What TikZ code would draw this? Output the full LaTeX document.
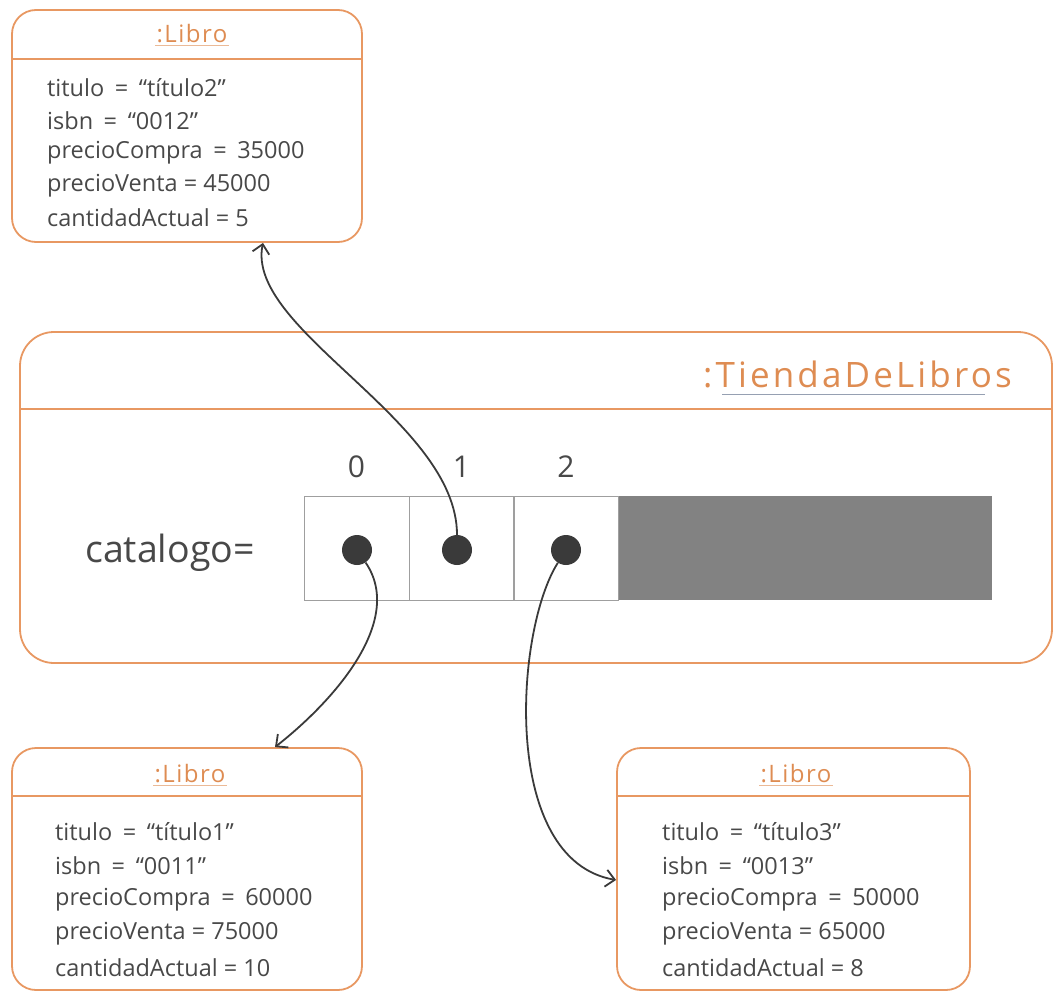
\documentclass[tikz,border=0pt]{standalone}
\usepackage{fontspec}
\setmainfont{Open Sans}
\newfontfamily\titlefont[LetterSpace=6]{Open Sans}
\newfontfamily\bigtitlefont[LetterSpace=9]{Open Sans}
\usetikzlibrary{arrows.meta,positioning}
\definecolor{boxorange}{RGB}{232,152,98}
\definecolor{titleorange}{RGB}{222,140,82}
\definecolor{textgray}{RGB}{72,72,72}
\definecolor{fillgray}{RGB}{130,130,130}
\definecolor{dotgray}{RGB}{58,58,58}
\definecolor{ulgray}{RGB}{150,160,178}

\newcommand{\eqsp}{\hspace{0.45em}=\hspace{0.45em}}

\tikzset{
  objbox/.style={draw=boxorange, line width=1.8pt, rounded corners=24pt, inner sep=0pt},
  objtitle/.style={text=titleorange, inner sep=1pt, font=\titlefont\fontsize{24}{27}\selectfont},
  attr/.style={text=textgray, anchor=west, inner sep=0pt, font=\fontsize{23.5}{27}\selectfont},
  cell/.style={draw=gray!75, line width=0.8pt, minimum width=105pt, minimum height=104pt, inner sep=0pt},
  ref/.style={circle, fill=dotgray, minimum size=30pt, inner sep=0pt},
  link/.style={draw=dotgray, line width=1.8pt, -{Straight Barb[length=9pt,width=17pt]}},
}

\begin{document}
\begin{tikzpicture}[x=1pt, y=-1pt]
  \useasboundingbox (0,0) rectangle (1055,1003);

  % Tienda
  \node[objbox, rounded corners=34pt, minimum width=1032pt, minimum height=331pt] (tienda) at (536,497.5) {};
  \draw[boxorange, line width=1.8pt] ([yshift=-78pt]tienda.north west) -- ([yshift=-78pt]tienda.north east);
  \node[text=titleorange, anchor=east, inner sep=0pt, font=\bigtitlefont\fontsize{35}{40}\selectfont] (tiendatit) at (1012,374) {:TiendaDeLibros};
  \draw[ulgray, line width=0.9pt] (722,394) -- (985,394);

  % arreglo catalogo
  \node[text=textgray, anchor=west, inner sep=0pt, font=\fontsize{37.5}{42}\selectfont] (catalogo) at (85,553) {catalogo=};
  \foreach \i/\x in {0/356.5, 1/461.5, 2/566} {
    \node[cell] (cell\i) at (\x,548) {};
    \node[text=textgray, font=\fontsize{30}{34}\selectfont] (idx\i) at (\x,467) {\i};
  }
  \fill[fillgray] (cell2.north east) rectangle (992,600);

  % referencias
  \node[ref] (ref0) at (357,550) {};
  \node[ref] (ref1) at (457,550) {};
  \node[ref] (ref2) at (566,550) {};

  % Libro 2 (arriba)
  \node[objbox, minimum width=350pt, minimum height=232pt] (libroA) at (187,126) {};
  \draw[boxorange, line width=1.8pt] ([yshift=-50pt]libroA.north west) -- ([yshift=-50pt]libroA.north east);
  \node[objtitle] (titA) at (192,34) {:Libro};
  \draw[titleorange!60, line width=0.9pt] ([yshift=-1pt]titA.south west) -- ([yshift=-1pt]titA.south east);
  \foreach \t [count=\i] in {titulo\eqsp“título2”, isbn\eqsp“0012”, precioCompra\eqsp35000, precioVenta = 45000, cantidadActual = 5}
    \node[attr] (attrA\i) at (47,{88+32.5*(\i-1)}) {\t};

  % Libro 1 (abajo izquierda)
  \node[objbox, minimum width=350pt, minimum height=242pt] (libroB) at (187,869) {};
  \draw[boxorange, line width=1.8pt] ([yshift=-49pt]libroB.north west) -- ([yshift=-49pt]libroB.north east);
  \node[objtitle] (titB) at (190,774) {:Libro};
  \draw[titleorange!60, line width=0.9pt] ([yshift=-1pt]titB.south west) -- ([yshift=-1pt]titB.south east);
  \foreach \t [count=\i] in {titulo\eqsp“título1”, isbn\eqsp“0011”, precioCompra\eqsp60000, precioVenta = 75000, cantidadActual = 10}
    \node[attr] (attrB\i) at (55,{832+33.8*(\i-1)}) {\t};

  % Libro 3 (abajo derecha)
  \node[objbox, minimum width=353pt, minimum height=242pt] (libroC) at (793.5,869) {};
  \draw[boxorange, line width=1.8pt] ([yshift=-49pt]libroC.north west) -- ([yshift=-49pt]libroC.north east);
  \node[objtitle] (titC) at (796,774) {:Libro};
  \draw[titleorange!60, line width=0.9pt] ([yshift=-1pt]titC.south west) -- ([yshift=-1pt]titC.south east);
  \foreach \t [count=\i] in {titulo\eqsp“título3”, isbn\eqsp“0013”, precioCompra\eqsp50000, precioVenta = 65000, cantidadActual = 8}
    \node[attr] (attrC\i) at (662,{832+33.8*(\i-1)}) {\t};

  % flechas
  \draw[link] (ref1) .. controls (457,420) and (245,330) .. ([xshift=76pt]libroA.south);
  \draw[link] (ref0) .. controls (405,620) and (335,700) .. ([xshift=88pt]libroB.north);
  \draw[link] (ref2) .. controls (515,630) and (500,860) .. ([yshift=-11pt]libroC.west);
\end{tikzpicture}
\end{document}
